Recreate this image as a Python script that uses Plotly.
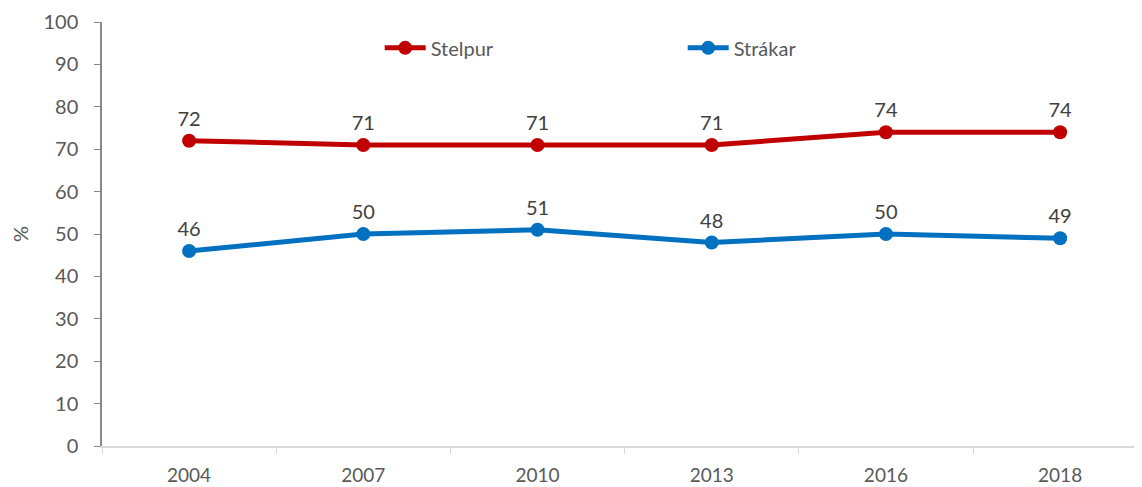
import plotly.graph_objects as go

years = ["2004", "2007", "2010", "2013", "2016", "2018"]
stelpur = [72, 71, 71, 71, 74, 74]
strakar = [46, 50, 51, 48, 50, 49]
y_ticks = list(range(0, 101, 10))

FONT = "Lato, 'Open Sans', sans-serif"

fig = go.Figure()
fig.add_trace(go.Scatter(
    x=years, y=stelpur, name="Stelpur", mode="lines+markers+text",
    line=dict(color="#C00000", width=5), marker=dict(size=14, color="#C00000"),
    text=[str(v) for v in stelpur], textposition="top center",
    textfont=dict(size=20, color="#404040", family=FONT),
))
fig.add_trace(go.Scatter(
    x=years, y=strakar, name="Strákar", mode="lines+markers+text",
    line=dict(color="#0070C0", width=5), marker=dict(size=14, color="#0070C0"),
    text=[str(v) for v in strakar], textposition="top center",
    textfont=dict(size=20, color="#404040", family=FONT),
))

fig.update_layout(
    width=1134, height=479,
    margin=dict(l=94, r=0, t=14, b=41),
    paper_bgcolor="white", plot_bgcolor="white",
    font=dict(family=FONT, color="#595959", size=20),
    showlegend=True,
    legend=dict(orientation="h", x=0.267, y=0.939, xanchor="left", yanchor="middle",
                itemwidth=41, entrywidth=247, entrywidthmode="pixels",
                font=dict(size=20, color="#595959", family=FONT),
                bgcolor="rgba(0,0,0,0)"),
    xaxis=dict(type="category", range=[-0.5, 5.47], showline=True, linecolor="#D9D9D9",
               linewidth=1.5, ticks="outside", tickson="boundaries", ticklen=6,
               tickcolor="#D9D9D9", showgrid=False, zeroline=False, automargin=False,
               ticklabelstandoff=11,
               tickfont=dict(size=19, color="#595959")),
    yaxis=dict(range=[0, 100], tickvals=y_ticks, showline=True, linecolor="#898989",
               linewidth=1.5, ticks="outside", ticklen=6, tickcolor="#898989",
               showgrid=False, zeroline=False, automargin=False,
               ticklabelstandoff=12,
               tickfont=dict(size=20, color="#595959"),
               title=dict(text="%", font=dict(size=20, color="#595959"), standoff=18)),
)

fig.write_html("out.html")
